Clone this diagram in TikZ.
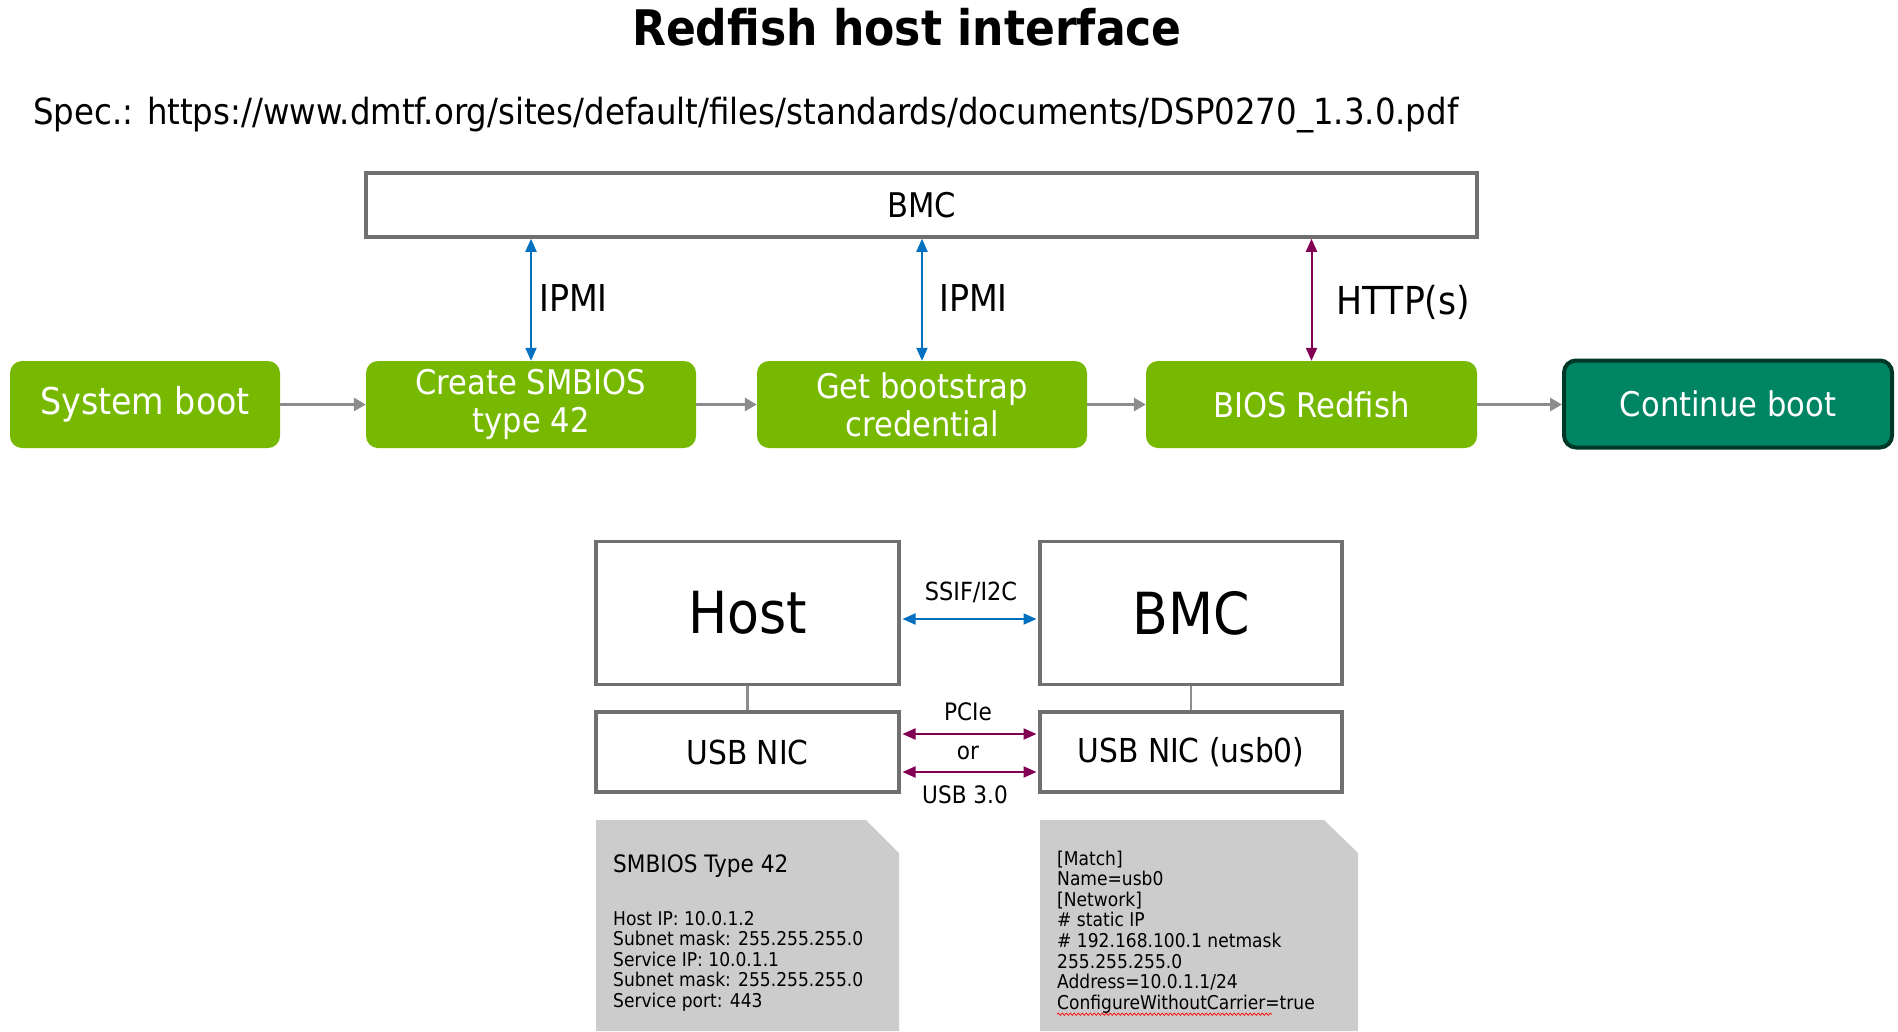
\documentclass[tikz,border=0pt]{standalone}
\usepackage{fontspec}
\setmainfont{DejaVu Sans}[FakeStretch=0.9]
\usetikzlibrary{arrows.meta,calc,decorations.pathmorphing}
\definecolor{nvgreen}{RGB}{118,185,0}
\definecolor{teal2}{RGB}{0,133,100}
\definecolor{tealdark}{RGB}{0,56,40}
\definecolor{boxgray}{RGB}{112,112,112}
\definecolor{arrgray}{RGB}{140,140,140}
\definecolor{ablue}{RGB}{0,112,192}
\definecolor{amag}{RGB}{130,0,84}
\definecolor{notegray}{RGB}{204,204,204}
\tikzset{
  fs/.style={font=\fontsize{#1}{#1}\selectfont},
  greenbox/.style={fill=nvgreen, rounded corners=12pt, text=white, inner sep=0pt,
    minimum height=87pt, minimum width=330pt, align=center,
    font=\fontsize{34}{38}\selectfont},
  graybox/.style={draw=boxgray, line width=3.5pt, fill=white, inner sep=0pt},
  grayarrow/.style={draw=arrgray, line width=3.5pt, -{Triangle[length=12pt,width=13pt]}},
  bluearrow/.style={draw=ablue, line width=2pt, {Triangle[length=13pt,width=11pt]}-{Triangle[length=13pt,width=11pt]}},
  magarrow/.style={draw=amag, line width=2pt, {Triangle[length=13pt,width=11pt]}-{Triangle[length=13pt,width=11pt]}},
  notebox/.style={fill=notegray},
  notetxt/.style={inner sep=0pt, font=\fontsize{19}{20}\selectfont},
  conn/.style={draw=boxgray!80, line width=2.5pt}
}
\begin{document}
\begin{tikzpicture}[x=1pt,y=-1pt]
\useasboundingbox (0,0) rectangle (1898,1031);
\fill[white] (0,0) rectangle (1898,1031);

% title and spec
\node[inner sep=0pt, font=\fontsize{49}{55}\selectfont\bfseries] (title) at (907,27) {Redfish host interface};
\node[inner sep=0pt, anchor=base west, fs=36] (spec) at (33,124) {Spec.: https://www.dmtf.org/sites/default/files/standards/documents/DSP0270\_1.3.0.pdf};

% top BMC
\node[graybox, minimum width=1111pt, minimum height=64pt, fs=34] (bmctop) at (921.5,205) {BMC};

% boot flow
\node[greenbox, minimum width=270pt, font=\fontsize{37}{38}\selectfont] (sysboot) at (145,404.5) {System boot};
\node[greenbox] (smbios) at (531,404.5) {Create SMBIOS\\type 42};
\node[greenbox] (getcred) at (922,404.5) {Get bootstrap\\credential};
\node[greenbox, minimum width=331pt] (biosrf) at (1311.5,404.5) {BIOS Redfish};
\node[greenbox, fill=teal2, draw=tealdark, line width=4pt, minimum width=328pt, minimum height=87pt] (contboot) at (1728,404) {Continue boot};

\draw[grayarrow] (sysboot.east) -- (smbios.west);
\draw[grayarrow] (smbios.east) -- (getcred.west);
\draw[grayarrow] (getcred.east) -- (biosrf.west);
\draw[grayarrow] (biosrf.east) -- (biosrf.east -| contboot.west);

\draw[bluearrow] (smbios.north) -- (smbios.north |- bmctop.south);
\draw[bluearrow] (getcred.north) -- (getcred.north |- bmctop.south);
\draw[magarrow] (biosrf.north) -- (biosrf.north |- bmctop.south);

\node[inner sep=0pt, anchor=west, fs=37] (ipmi1) at (539,298) {IPMI};
\node[inner sep=0pt, anchor=west, fs=37] (ipmi2) at (939,298) {IPMI};
\node[inner sep=0pt, anchor=west, fs=38.5] (http) at (1336,302) {HTTP(s)};

% lower block
\node[graybox, minimum width=303pt, minimum height=143pt, fs=58] (host) at (747.5,613) {Host};
\node[graybox, minimum width=302pt, minimum height=143pt, fs=58] (bmc2) at (1191,613) {BMC};
\node[graybox, minimum width=303pt, minimum height=80pt, fs=33] (nic1) at (747.5,752) {USB NIC};
\node[graybox, minimum width=302pt, minimum height=80pt, fs=33] (nic2) at (1191,752) {USB NIC (usb0)};

\draw[conn] (host.south) -- (nic1.north);
\draw[conn] (bmc2.south) -- (nic2.north);

\draw[bluearrow] ($(host.east)+(1.75,6)$) -- ($(bmc2.west)+(-1.75,6)$);
\draw[magarrow] ($(nic1.east)+(1.75,-18)$) -- ($(nic2.west)+(-1.75,-18)$);
\draw[magarrow] ($(nic1.east)+(1.75,20)$) -- ($(nic2.west)+(-1.75,20)$);

\node[inner sep=0pt, fs=25] (ssif) at (971,592) {SSIF/I2C};
\node[inner sep=0pt, fs=24] (pcie) at (968,712) {PCIe};
\node[inner sep=0pt, fs=24] (or) at (968,753) {or};
\node[inner sep=0pt, fs=24] (usb3) at (965,795) {USB 3.0};

% notes
\fill[notebox] (596,820) -- (866,820) -- (899,853) -- (899,1031) -- (596,1031) -- cycle;
\fill[notebox] (1040,820) -- (1324,820) -- (1358,853) -- (1358,1031) -- (1040,1031) -- cycle;

\node[inner sep=0pt, anchor=base west, fs=24] (smt) at (613,872) {SMBIOS Type 42};
\foreach \t [count=\i] in {Host IP: 10.0.1.2, Subnet mask: 255.255.255.0, Service IP: 10.0.1.1, Subnet mask: 255.255.255.0, Service port: 443}
  \node[notetxt, anchor=base west] (l\i) at (613,{925+20.5*(\i-1)}) {\t};

\foreach \t [count=\i] in {[Match], Name=usb0, [Network], \# static IP, \# 192.168.100.1 netmask, 255.255.255.0, Address=10.0.1.1/24, ConfigureWithoutCarrier=true}
  \node[notetxt, anchor=base west] (r\i) at (1057,{865+20.6*(\i-1)}) {\t};

\draw[red, line width=0.7pt, decorate, decoration={snake, amplitude=1.1pt, segment length=4pt}]
  ($(r8.base west)+(0,5)$) -- ++(215,0);
\end{tikzpicture}
\end{document}
